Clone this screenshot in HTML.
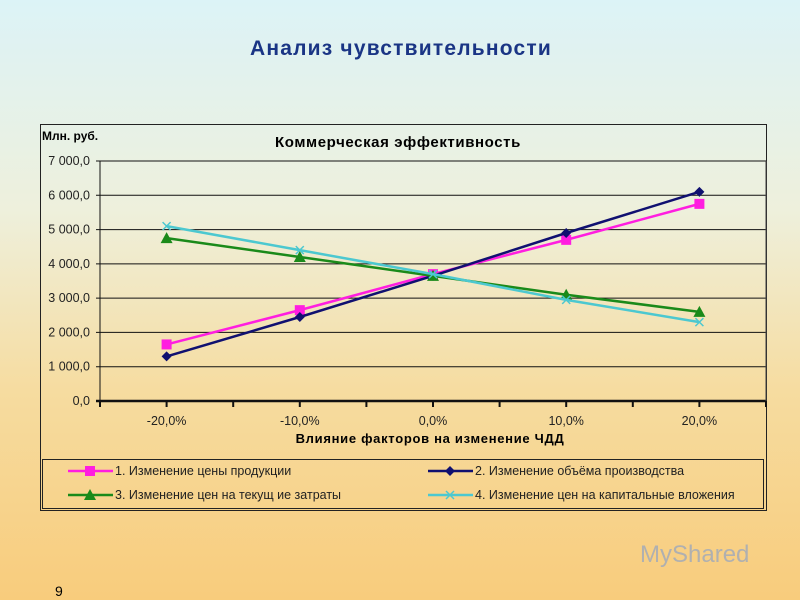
<!DOCTYPE html>
<html><head><meta charset="utf-8"><style>
body{margin:0;width:800px;height:600px;overflow:hidden;font-family:"Liberation Sans",sans-serif;background:linear-gradient(#dcf3f7 0%,#eef0dc 35%,#f6dca0 65%,#f8cc7c 100%);}
</style></head><body>
<svg width="800" height="600" style="position:absolute;left:0;top:0">
<text x="401" y="55" text-anchor="middle" font-size="21" font-weight="bold" letter-spacing="1.2" fill="#1a3585">Анализ чувствительности</text>
<rect x="40.5" y="124.5" width="726" height="386" fill="none" stroke="#222"/>
<text x="42" y="140" font-size="12" font-weight="bold">Млн. руб.</text>
<text x="398" y="147" text-anchor="middle" font-size="15" font-weight="bold" letter-spacing="0.6">Коммерческая эффективность</text>
<g id="grid"></g><g id="series"></g>
<text x="430" y="443" text-anchor="middle" font-size="13" font-weight="bold" letter-spacing="0.7">Влияние факторов на изменение ЧДД</text>
<rect x="42.5" y="459.5" width="721" height="49" fill="none" stroke="#222"/>
<g id="legend"></g>
<text x="55" y="596" font-size="14">9</text>
<text x="640" y="562" font-size="24" fill="#b0b0b0">MyShared</text>
</svg>
<script>
const categories=["-20,0%","-10,0%","0,0%","10,0%","20,0%"];
const yTicks=[0,1000,2000,3000,4000,5000,6000,7000];
const yTickLabels=["0,0","1 000,0","2 000,0","3 000,0","4 000,0","5 000,0","6 000,0","7 000,0"];
const priceValues=[1650,2650,3700,4700,5750];
const volumeValues=[1300,2450,3650,4900,6100];
const costValues=[4750,4200,3650,3100,2600];
const capexValues=[5100,4400,3700,2950,2300];
const names=["1. Изменение цены продукции","2. Изменение объёма производства","3. Изменение цен на текущ ие затраты","4. Изменение цен на капитальные вложения"];
const NS="http://www.w3.org/2000/svg";
const x0=100,x1=766,yT=161,yB=401;
const xs=i=>x0+(x1-x0)/categories.length*(i+0.5);
const ys=v=>yB-(yB-yT)*v/7000;
function mk(t,a,p){const e=document.createElementNS(NS,t);for(const k in a)e.setAttribute(k,a[k]);p.appendChild(e);return e;}
const g=document.getElementById('grid');
yTicks.forEach((v,i)=>{
 const l=mk('line',{x1:x0-4,x2:x1,y1:ys(v),y2:ys(v),stroke:'#111','stroke-width':i==0?2.5:1},g);
 
 
 const t=mk('text',{x:x0-10,y:ys(v)+4,'text-anchor':'end','font-size':12.5,fill:'#222'},g);t.textContent=yTickLabels[i];
 
 
});
const ax=mk('line',{x1:x0,x2:x0,y1:yT,y2:yB,stroke:'#111'},g);


mk('line',{x1:x1,x2:x1,y1:yT,y2:yB,stroke:'#444'},g);
for(let i=0;i<=categories.length;i++){mk('line',{x1:x0+(x1-x0)/categories.length*i,x2:x0+(x1-x0)/categories.length*i,y1:yB,y2:yB+6,stroke:'#111','stroke-width':2},g);}
categories.forEach((c,i)=>{mk('line',{x1:xs(i),x2:xs(i),y1:yB,y2:yB+6,stroke:'#111','stroke-width':2},g);
 const t=mk('text',{x:xs(i),y:yB+24,'text-anchor':'middle','font-size':12.5,fill:'#222'},g);t.textContent=c;
 
 });
function marker(type,x,y,c,p){
 if(type=='sq')return mk('rect',{x:x-5,y:y-5,width:10,height:10,fill:c},p);
 if(type=='dia')return mk('polygon',{points:`${x},${y-5} ${x+5},${y} ${x},${y+5} ${x-5},${y}`,fill:c},p);
 if(type=='tri')return mk('polygon',{points:`${x},${y-6} ${x+6},${y+5} ${x-6},${y+5}`,fill:c},p);
 const q=mk('path',{d:`M${x-4},${y-4}L${x+4},${y+4}M${x+4},${y-4}L${x-4},${y+4}`,stroke:c,'stroke-width':1.5},p);return q;
}
const S=[[priceValues,'#ff1ee0','sq'],[volumeValues,'#101070','dia'],[costValues,'#1a8a1a','tri'],[capexValues,'#4cc8d0','x']];
const sg=document.getElementById('series');
S.forEach(([vals,c,m],k)=>{
 const pl=mk('polyline',{points:vals.map((v,i)=>xs(i)+','+ys(v)).join(' '),fill:'none',stroke:c,'stroke-width':2.5},sg);
 
 
 vals.forEach((v,i)=>{const e=marker(m,xs(i),ys(v),c,sg);
  
  });
});
const lg=document.getElementById('legend');
S.forEach(([vals,c,m],k)=>{
 const lx=k%2?428:68, ly=k<2?471:495;
 mk('line',{x1:lx,x2:lx+45,y1:ly,y2:ly,stroke:c,'stroke-width':2.5},lg);
 marker(m,lx+22,ly,c,lg);
 const t=mk('text',{x:lx+47,y:ly+4,'font-size':12.5,fill:'#222'},lg);t.textContent=names[k];
 
 
});
</script>
</body></html>
